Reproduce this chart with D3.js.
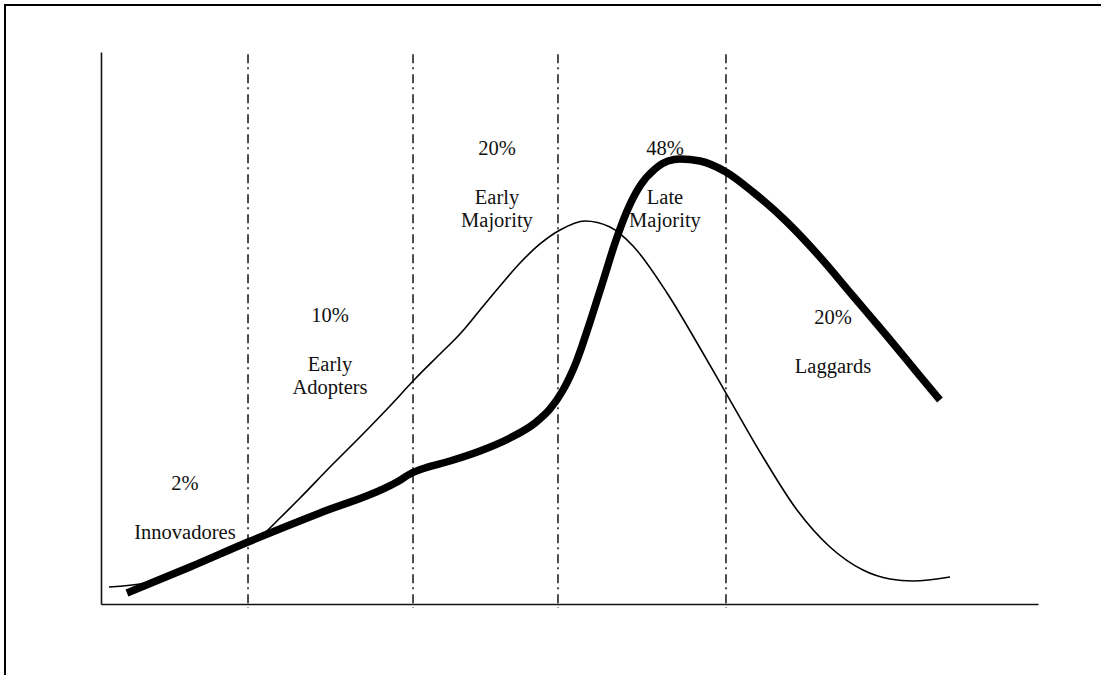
<!DOCTYPE html>
<html><head><meta charset="utf-8">
<script src="https://cdn.jsdelivr.net/npm/d3@7"></script>
<style>html,body{margin:0;padding:0;background:#fff;overflow:hidden;}svg{display:block;}</style>
</head><body>
<svg id="chart" width="1101" height="675"></svg>
<script>
// ---- data (x: adoption time 0-100, y: relative level 0-100) ----
const bellX = [0.85,4.70,10.57,15.69,17.18,19.10,21.24,24.44,27.64,30.84,33.51,36.18,38.31,40.45,42.58,44.72,46.85,48.99,51.65,54.32,56.78,60.41,63.93,66.70,70.65,74.28,77.80,81.32,84.20,86.66,90.61];
const bellY = [3.08,3.80,7.43,11.05,12.50,15.58,19.20,24.82,30.25,35.87,40.76,45.29,48.91,53.26,57.61,61.78,65.22,67.75,69.38,68.30,64.86,56.34,46.38,38.22,26.63,17.03,10.33,6.16,4.53,4.17,4.89];
const adoptX = [2.77,9.50,15.69,23.37,30.31,31.59,32.98,34.58,37.25,40.45,43.65,46.32,47.92,49.31,50.80,52.19,53.58,54.86,56.14,57.52,59.12,60.51,61.79,63.93,66.70,69.58,73.21,76.73,80.26,83.88,87.41,89.54];
const adoptY = [1.99,6.70,11.23,16.49,21.01,22.10,23.55,24.64,25.91,27.72,30.07,32.79,35.33,38.77,44.20,51.09,58.51,65.40,71.20,75.72,78.80,80.25,80.62,80.25,78.26,74.64,69.20,62.86,55.80,48.55,41.30,36.96];
const boundaries = [15.69,33.30,48.77,66.70];
const categories = [["Innovadores"],["Early","Adopters"],["Early","Majority"],["Late","Majority"],["Laggards"]];
const shares = ["2%","10%","20%","48%","20%"];
const labelX = [8.96,24.44,42.26,60.19,78.12];
const labelY = [21.92,52.36,82.61,82.61,51.99];

const svg = d3.select("#chart");
const x = d3.scaleLinear().domain([0,100]).range([101,1038]);
const y = d3.scaleLinear().domain([0,100]).range([604,52]);

// frame (left and top edges visible)
svg.append("line").attr("x1",5).attr("x2",5).attr("y1",4).attr("y2",700)
  .attr("stroke","#000").attr("stroke-width",2);
svg.append("line").attr("x1",4).attr("x2",1101).attr("y1",5).attr("y2",5)
  .attr("stroke","#000").attr("stroke-width",2);

// axes (no ticks)
svg.append("g").attr("transform",`translate(0,${y(0)})`)
  .call(d3.axisBottom(x).tickValues([]).tickSizeOuter(0))
  .call(g=>g.select(".domain").attr("stroke","#111").attr("stroke-width",1.6));
svg.append("g").attr("transform",`translate(${x(0)},0)`)
  .call(d3.axisLeft(y).tickValues([]).tickSizeOuter(0))
  .call(g=>g.select(".domain").attr("stroke","#111").attr("stroke-width",1.6));

// phase boundaries
svg.selectAll("line.b").data(boundaries).join("line").attr("class","b")
  .attr("x1",d=>x(d)).attr("x2",d=>x(d)).attr("y1",y(99.6)).attr("y2",y(-0.7))
  .attr("stroke","#000").attr("stroke-width",1.4).attr("stroke-dasharray","9,4,2,5");

const line = d3.line().x(d=>x(d[0])).y(d=>y(d[1])).curve(d3.curveMonotoneX);
svg.append("path").datum(d3.zip(bellX,bellY)).attr("d",line)
  .attr("fill","none").attr("stroke","#000").attr("stroke-width",1.6);
svg.append("path").datum(d3.zip(adoptX,adoptY)).attr("d",line)
  .attr("fill","none").attr("stroke","#000").attr("stroke-width",7.5).attr("stroke-linecap","butt");

// labels
const font = "'Liberation Serif','Times New Roman',serif";
const lg = svg.append("g").attr("font-family",font).attr("font-size",20.5).attr("fill","#111").attr("text-anchor","middle");
shares.forEach((s,i)=>{
  lg.append("text").attr("x",x(labelX[i])).attr("y",y(labelY[i])).attr("dominant-baseline","central").text(s);
  categories[i].forEach((t,j)=>{
    lg.append("text").attr("x",x(labelX[i])).attr("y",y(labelY[i])+49+j*23).attr("dominant-baseline","central").text(t);
  });
});
</script>
</body></html>
